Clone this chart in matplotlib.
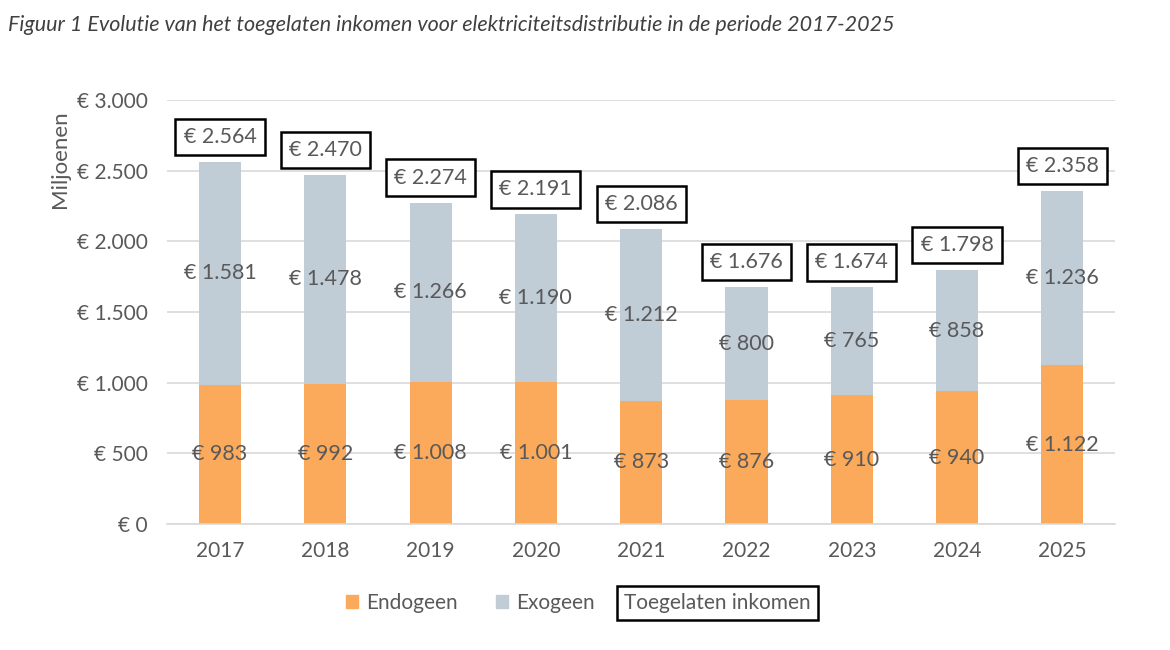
import matplotlib
matplotlib.use("Agg")
import matplotlib.pyplot as plt
from matplotlib.patches import Patch
from matplotlib.ticker import FuncFormatter

years = ["2017", "2018", "2019", "2020", "2021", "2022", "2023", "2024", "2025"]
endogeen = [983, 992, 1008, 1001, 873, 876, 910, 940, 1122]
exogeen = [1581, 1478, 1266, 1190, 1212, 800, 765, 858, 1236]
totaal = [2564, 2470, 2274, 2191, 2086, 1676, 1674, 1798, 2358]

C_ENDO = "#FBAA5B"
C_EXO = "#C0CCD6"
TXT = "#595959"

plt.rcParams['font.family'] = ['Lato', 'DejaVu Sans']

def fmt(v):
    s = f"{int(round(v)):,}".replace(",", ".")
    return f"€ {s}"

fig = plt.figure(figsize=(11.7, 6.5), dpi=100)
ax = fig.add_axes([0.143, 0.194, 0.810, 0.652])

x = list(range(len(years)))
w = 0.40
ax.bar(x, endogeen, w, color=C_ENDO, zorder=2)
ax.bar(x, exogeen, w, bottom=endogeen, color=C_EXO, zorder=2)

for i in x:
    ax.text(i, endogeen[i] / 2, fmt(endogeen[i]), ha="center", va="center",
            fontsize=15.5, color=TXT, zorder=3)
    ax.text(i, endogeen[i] + exogeen[i] / 2, fmt(exogeen[i]), ha="center", va="center",
            fontsize=15.5, color=TXT, zorder=3)
    ax.annotate(fmt(totaal[i]), (i, totaal[i]), xytext=(0, 18), textcoords="offset points",
                ha="center", va="center", fontsize=15.5, color=TXT, zorder=4,
                bbox=dict(boxstyle="square,pad=0.38", fc="white", ec="black", lw=1.8))

ax.set_xlim(-0.5, len(years) - 0.5)
ax.set_ylim(0, 3000)
ax.set_yticks(range(0, 3001, 500))
ax.yaxis.set_major_formatter(FuncFormatter(lambda v, p: fmt(v)))
ax.set_xticks(x)
ax.set_xticklabels(years)
ax.tick_params(axis="both", length=0, labelsize=15, colors=TXT)
ax.tick_params(axis="y", pad=14)
ax.tick_params(axis="x", pad=12)
ax.grid(axis="y", color="#D9D9D9", lw=1.2, zorder=0)
for s in ax.spines.values():
    s.set_visible(False)
ax.spines["bottom"].set_visible(True)
ax.spines["bottom"].set_color("#D9D9D9")
ax.spines["bottom"].set_linewidth(1.2)

ax.set_ylabel("Miljoenen", fontsize=16, color=TXT)
ax.yaxis.set_label_coords(-0.103, 0.86)

fig.text(0.007, 0.962, "Figuur 1 Evolutie van het toegelaten inkomen voor elektriciteitsdistributie in de periode 2017-2025",
         fontsize=15.5, style="italic", color="#404040", ha="left", va="center")

handles = [Patch(color=C_ENDO, label="Endogeen"), Patch(color=C_EXO, label="Exogeen")]
fig.legend(handles=handles, loc="center", bbox_to_anchor=(0.402, 0.072), ncol=2, frameon=False,
           fontsize=15, handlelength=0.6, handleheight=0.6, handletextpad=0.4, columnspacing=1.8,
           labelcolor=TXT)
fig.text(0.613, 0.072, "Toegelaten inkomen", fontsize=15, color=TXT, ha="center", va="center",
         bbox=dict(boxstyle="square,pad=0.35", fc="white", ec="black", lw=1.8))

fig.savefig("out.png", dpi=100, facecolor="white")
